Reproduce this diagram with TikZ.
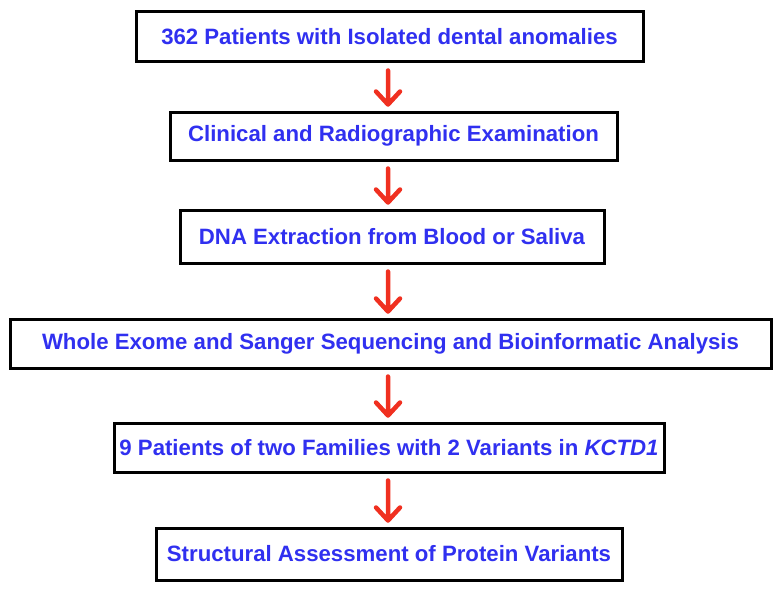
\documentclass[tikz,border=0pt]{standalone}
\usepackage{fontspec}
\setmainfont{Liberation Sans}
\definecolor{txtblue}{HTML}{3030F0}
\definecolor{arr}{HTML}{F03020}
\begin{document}
\begin{tikzpicture}[x=1pt,y=-1pt,
  stepbox/.style={draw=black,line width=3pt,fill=white,inner sep=0pt,font=\bfseries\fontsize{22.2}{26}\selectfont,text=txtblue},
  flow/.style={draw=arr,line width=4.5pt,line cap=round,line join=round}]
\useasboundingbox (0,0) rectangle (779,594);
\node[stepbox,minimum width=507pt,minimum height=50pt] (b1) at (389.5,37) {362 Patients with Isolated dental anomalies};
\node[stepbox,minimum width=447pt,minimum height=48pt] (b2) at (393.5,136) {Clinical and Radiographic Examination};
\node[stepbox,minimum width=424pt,minimum height=53pt] (b3) at (392,236.5) {DNA Extraction from Blood or Saliva};
\node[stepbox,minimum width=761pt,minimum height=49pt] (b4) at (390.5,343.5) {Whole Exome and Sanger Sequencing and Bioinformatic Analysis};
\node[stepbox,minimum width=550pt,minimum height=49pt] (b5) at (389,447.5) {9 Patients of two Families with 2 Variants in \textit{KCTD1}};
\node[stepbox,minimum width=466pt,minimum height=52pt] (b6) at (389,554) {Structural Assessment of Protein Variants};
\foreach \a/\b in {b1/b2,b2/b3,b3/b4,b4/b5,b5/b6}{
  \path (388,0 |- \a.south) ++(0,7) coordinate (s) (388,0 |- \b.north) ++(0,-6) coordinate (e);
  \draw[flow] (s) -- (e) (e) ++(-12,-13) -- (e) -- ++(12,-13);
}
\end{tikzpicture}
\end{document}
